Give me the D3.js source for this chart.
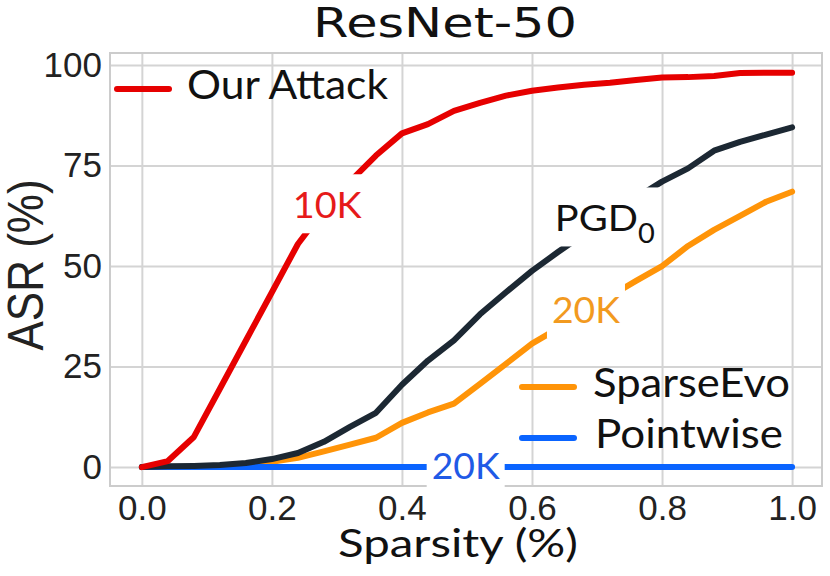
<!DOCTYPE html>
<html>
<head>
<meta charset="utf-8">
<script src="https://cdn.jsdelivr.net/npm/d3@7/dist/d3.min.js"></script>
<style>
  body { margin: 0; background: #fff; }
  .grid line { stroke: #d4d4d4; stroke-width: 2; }
  .grid .domain { display: none; }
  .ticks .domain, .ticks line { display: none; }
  .ticks text { font-family: "Liberation Sans", Arial, sans-serif; font-size: 35px; fill: #222; }
</style>
</head>
<body>
<svg id="chart" width="830" height="576"></svg>
<script>
// ---- data ----
const sparsity  = [0, 0.04, 0.08, 0.12, 0.16, 0.20, 0.24, 0.28, 0.32, 0.36, 0.40, 0.44, 0.48,
                   0.52, 0.56, 0.60, 0.64, 0.68, 0.72, 0.76, 0.80, 0.84, 0.88, 0.92, 0.96, 1.00];
const ourAttack = [0, 1.5, 7.5, 19.5, 31.5, 43.5, 55.5, 64, 71, 77.5, 83, 85.3, 88.6,
                   90.6, 92.4, 93.6, 94.4, 95.1, 95.6, 96.3, 96.9, 97.0, 97.3, 98.0, 98.1, 98.1];
const pgd0      = [0, 0.2, 0.3, 0.5, 1.0, 2.0, 3.5, 6.3, 10, 13.5, 20.5, 26.5, 31.5,
                   38, 43.5, 48.8, 53.5, 58, 62.5, 67, 71, 74.3, 78.7, 80.9, 82.7, 84.5];
const sparseEvo = [0, 0, 0.1, 0.3, 0.7, 1.3, 2.3, 3.9, 5.6, 7.3, 11, 13.6, 15.8,
                   20.7, 25.7, 30.7, 34.5, 38.5, 42.5, 46.3, 50, 55, 59, 62.5, 66, 68.5];
const pointwise = [0, 0, 0, 0, 0, 0, 0, 0, 0, 0, 0, 0, 0,
                   0, 0, 0, 0, 0, 0, 0, 0, 0, 0, 0, 0, 0];
const xTicks = [0, 0.2, 0.4, 0.6, 0.8, 1.0];
const yTicks = [0, 25, 50, 75, 100];

// draw order: first drawn ends up at the bottom
const series = [
  { key: 'sparseEvo', values: sparseEvo, color: '#ff9408' },
  { key: 'pointwise', values: pointwise, color: '#0a64ff' },
  { key: 'pgd0',      values: pgd0,      color: '#1c2833' },
  { key: 'ourAttack', values: ourAttack, color: '#e60000' }
];
const byKey = Object.fromEntries(series.map(s => [s.key, s]));

// inline labels sitting on the lines (white box hides the line under them)
const inlineLabels = [
  { key: 'ourAttack', at: 0.285, text: '10K', sub: null, len: 69,  color: '#e61a1a' },
  { key: 'pgd0',      at: 0.712, text: 'PGD', sub: '0',  len: 100, color: '#111' },
  { key: 'sparseEvo', at: 0.683, text: '20K', sub: null, len: 68,  color: '#f29a1f' },
  { key: 'pointwise', at: 0.498, text: '20K', sub: null, len: 68,  color: '#1f5ae6' }
];

const svg = d3.select('#chart');
const plot = { left: 110, right: 822, top: 53, bottom: 486 };

const x = d3.scaleLinear().domain([-0.049, 1.046]).range([plot.left, plot.right]);
const y = d3.scaleLinear().domain([-4.7, 103]).range([plot.bottom, plot.top]);

// grid
svg.append('g').attr('class', 'grid')
  .attr('transform', `translate(0,${plot.bottom})`)
  .call(d3.axisBottom(x).tickValues(xTicks).tickSize(-(plot.bottom - plot.top)).tickFormat(''));
svg.append('g').attr('class', 'grid')
  .attr('transform', `translate(${plot.left},0)`)
  .call(d3.axisLeft(y).tickValues(yTicks).tickSize(-(plot.right - plot.left)).tickFormat(''));

// frame
svg.append('rect')
  .attr('x', plot.left).attr('y', plot.top)
  .attr('width', plot.right - plot.left).attr('height', plot.bottom - plot.top)
  .attr('fill', 'none').attr('stroke', '#cccccc').attr('stroke-width', 2);

// tick labels
svg.append('g').attr('class', 'ticks')
  .attr('transform', `translate(0,${plot.bottom})`)
  .call(d3.axisBottom(x).tickValues(xTicks).tickSize(0).tickPadding(9).tickFormat(d3.format('.1f')));
svg.append('g').attr('class', 'ticks')
  .attr('transform', `translate(${plot.left},0)`)
  .call(d3.axisLeft(y).tickValues(yTicks).tickSize(0).tickPadding(8).tickFormat(d3.format('d')));

// lines
const line = d3.line()
  .x((d, i) => x(sparsity[i]))
  .y(d => y(d));

svg.append('g')
  .selectAll('path')
  .data(series)
  .join('path')
  .attr('d', s => line(s.values))
  .attr('fill', 'none')
  .attr('stroke', s => s.color)
  .attr('stroke-width', 6)
  .attr('stroke-linecap', 'round')
  .attr('stroke-linejoin', 'round');

// inline labels
function valueAt(values, xv) {
  const i = Math.min(d3.bisectRight(sparsity, xv), sparsity.length - 1);
  const t = (xv - sparsity[i - 1]) / (sparsity[i] - sparsity[i - 1]);
  return values[i - 1] + t * (values[i] - values[i - 1]);
}

const labelG = svg.append('g');
inlineLabels.forEach(l => {
  const cx = x(l.at);
  const cy = y(valueAt(byKey[l.key].values, l.at));
  const base = cy + 12;
  labelG.append('rect')
    .attr('x', cx - l.len / 2 - 5).attr('y', base - 44)
    .attr('width', l.len + 10).attr('height', 59)
    .attr('fill', '#fff');
  const t = labelG.append('text')
    .attr('x', cx).attr('y', base)
    .attr('text-anchor', 'middle')
    .attr('font-family', 'Lato, sans-serif')
    .attr('font-size', 37)
    .attr('fill', l.color)
    .attr('textLength', l.len)
    .attr('lengthAdjust', 'spacingAndGlyphs');
  t.append('tspan').text(l.text);
  if (l.sub) t.append('tspan').attr('dy', 12).attr('font-size', 27).text(l.sub);
});

// legends (no frame)
const legendItems = [
  { key: 'ourAttack', label: 'Our Attack', x0: 117, ly: 89,  tx: 187, len: 201 },
  { key: 'sparseEvo', label: 'SparseEvo',  x0: 522, ly: 387, tx: 593, len: 197 },
  { key: 'pointwise', label: 'Pointwise',  x0: 522, ly: 438, tx: 595, len: 188 }
];
const lg = svg.append('g');
legendItems.forEach(d => {
  lg.append('line')
    .attr('x1', d.x0).attr('x2', d.x0 + 52)
    .attr('y1', d.ly).attr('y2', d.ly)
    .attr('stroke', byKey[d.key].color)
    .attr('stroke-width', 6)
    .attr('stroke-linecap', 'round');
  lg.append('text')
    .attr('x', d.tx).attr('y', d.ly + 10)
    .attr('font-family', 'Lato, sans-serif')
    .attr('font-size', 40)
    .attr('fill', '#111')
    .attr('textLength', d.len)
    .attr('lengthAdjust', 'spacingAndGlyphs')
    .text(d.label);
});

// title
svg.append('text')
  .attr('x', 445).attr('y', 37)
  .attr('text-anchor', 'middle')
  .attr('font-family', '"DejaVu Sans", sans-serif')
  .attr('font-size', 41)
  .attr('fill', '#111')
  .attr('textLength', 264)
  .attr('lengthAdjust', 'spacingAndGlyphs')
  .text('ResNet-50');

// axis labels
svg.append('text')
  .attr('x', 458).attr('y', 557)
  .attr('text-anchor', 'middle')
  .attr('font-family', 'Lato, sans-serif')
  .attr('font-size', 39)
  .attr('fill', '#111')
  .attr('textLength', 240)
  .attr('lengthAdjust', 'spacingAndGlyphs')
  .text('Sparsity (%)');

svg.append('text')
  .attr('transform', 'translate(43,265) scale(1.12,1) rotate(-90)')
  .attr('text-anchor', 'middle')
  .attr('font-family', '"Liberation Sans", Arial, sans-serif')
  .attr('font-size', 44)
  .attr('fill', '#222')
  .text('ASR (%)');
</script>
</body>
</html>
